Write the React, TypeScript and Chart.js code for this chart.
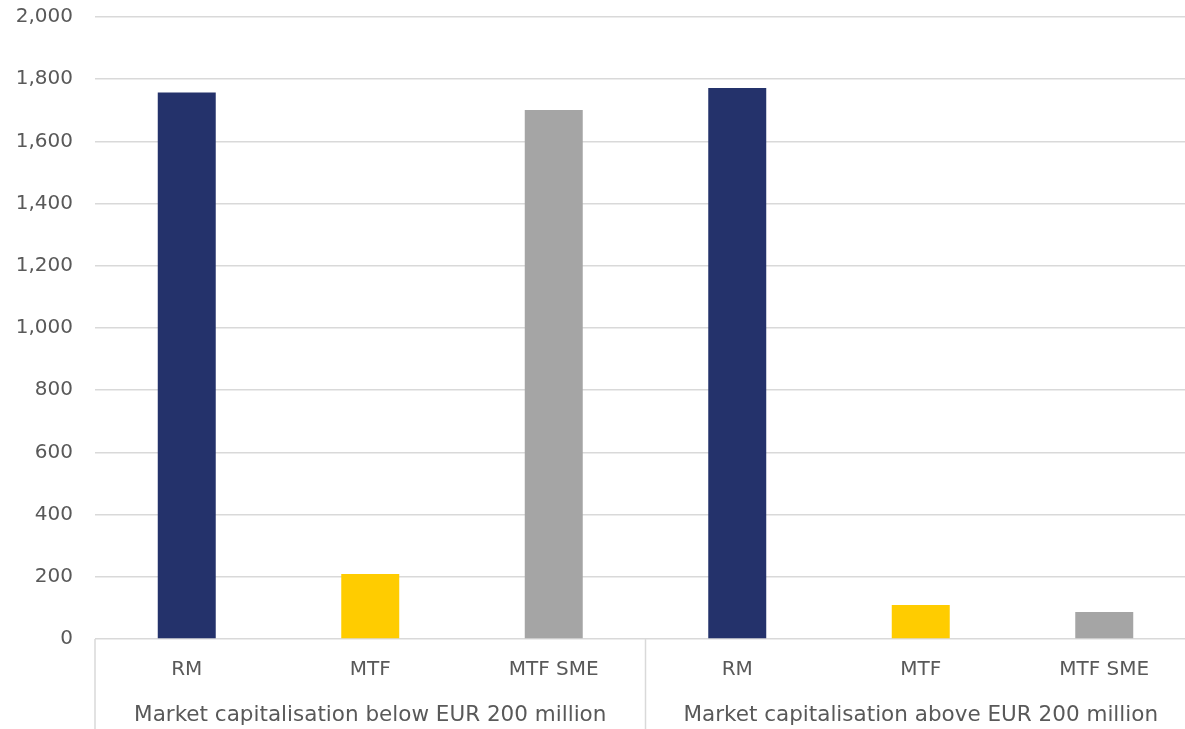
import React, { useEffect, useRef } from "react";
import { Chart, registerables } from "chart.js";

Chart.register(...registerables);

const groups = [
  "Market capitalisation below EUR 200 million",
  "Market capitalisation above EUR 200 million",
];
const subLabels = ["RM", "MTF", "MTF SME", "RM", "MTF", "MTF SME"];
const values = [1757, 209, 1701, 1772, 109, 87];
const barColors = ["#24326B", "#FFCC00", "#A5A5A5", "#24326B", "#FFCC00", "#A5A5A5"];
const yTicks = [0, 200, 400, 600, 800, 1000, 1200, 1400, 1600, 1800, 2000];

const FONT = "'DejaVu Sans', sans-serif";
const TEXT = "#595959";
const GRID = "#d9d9d9";

const groupPlugin = {
  id: "groupLabels",
  afterDraw(chart: any) {
    const { ctx, chartArea, scales } = chart;
    const x = scales.x;
    const perGroup = subLabels.length / groups.length;
    const bottom = chart.height;
    ctx.save();
    ctx.strokeStyle = GRID;
    ctx.lineWidth = 1.5;
    const step = x.getPixelForValue(1) - x.getPixelForValue(0);
    for (let g = 0; g <= groups.length; g++) {
      const px = g === 0 ? chartArea.left : x.getPixelForValue(g * perGroup - 1) + step / 2;
      ctx.beginPath();
      ctx.moveTo(px, chartArea.bottom);
      ctx.lineTo(px, bottom);
      ctx.stroke();
    }
    ctx.fillStyle = TEXT;
    ctx.font = `21.5px ${FONT}`;
    ctx.textAlign = "center";
    ctx.textBaseline = "middle";
    groups.forEach((label, g) => {
      const a = x.getPixelForValue(g * perGroup);
      const b = x.getPixelForValue(g * perGroup + perGroup - 1);
      ctx.fillText(label, (a + b) / 2, 715);
    });
    ctx.restore();
  },
};

export default function App() {
  const ref = useRef<HTMLCanvasElement>(null);
  useEffect(() => {
    document.body.style.margin = "0";
    document.body.style.overflow = "hidden";
    const chart = new Chart(ref.current!, {
      type: "bar",
      data: {
        labels: subLabels,
        datasets: [
          {
            data: values,
            backgroundColor: barColors,
            categoryPercentage: 1,
            barPercentage: 0.316,
          },
        ],
      },
      options: {
        animation: false,
        responsive: false,
        layout: { padding: { top: 0, right: 4, left: 0, bottom: 0 } },
        plugins: { legend: { display: false }, tooltip: { enabled: false } },
        scales: {
          x: {
            grid: { display: false },
            border: { display: false },
            ticks: { color: TEXT, font: { family: FONT, size: 20 }, padding: 11 },
            afterFit: (s: any) => {
              s.height = 90;
            },
          },
          y: {
            min: 0,
            max: 2000,
            afterBuildTicks: (s: any) => {
              s.ticks = yTicks.map((v) => ({ value: v }));
            },
            grid: { color: GRID, lineWidth: 1.5, drawTicks: false },
            border: { display: false },
            ticks: {
              color: TEXT,
              font: { family: FONT, size: 20 },
              padding: 22,
              callback: (v: any) => Number(v).toLocaleString("en-US"),
            },
            afterFit: (s: any) => {
              s.width = 95;
              s.paddingTop = 17;
            },
          },
        },
      },
      plugins: [groupPlugin],
    });
    return () => chart.destroy();
  }, []);
  return (
    <div style={{ width: 1185, height: 729, overflow: "hidden", position: "relative" }}>
      <canvas ref={ref} width={1200} height={729} style={{ position: "absolute", left: 0, top: 0 }} />
    </div>
  );
}
